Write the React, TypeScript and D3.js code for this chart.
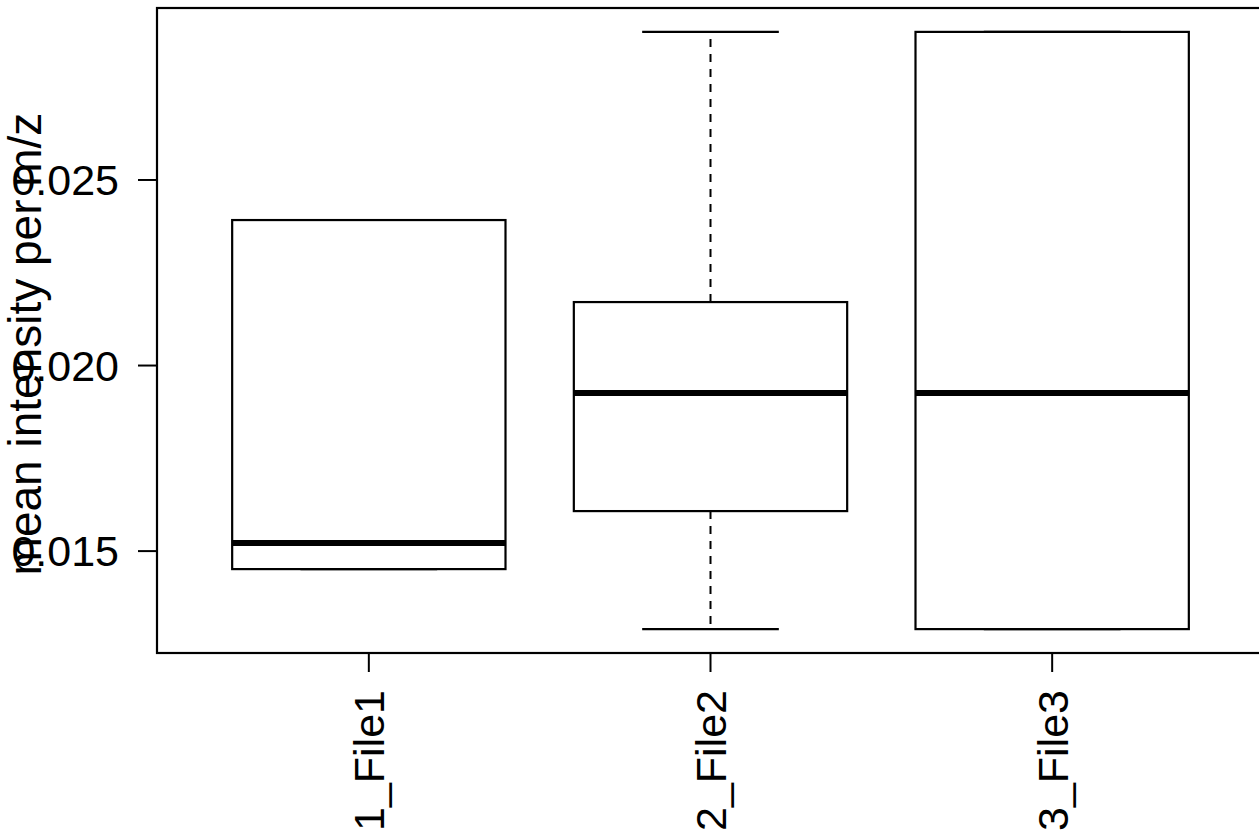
import React from "react";
import * as d3 from "d3";

const categories = ["1_File1", "2_File2", "3_File3"];
const mins = [0.014515, 0.012898, 0.012898];
const q1s = [0.014515, 0.016078, 0.012898];
const medians = [0.015216, 0.019259, 0.019259];
const q3s = [0.02392, 0.02171, 0.02899];
const maxs = [0.02392, 0.02899, 0.02899];
const yTicks = [0.015, 0.02, 0.025];
const yTitle = "mean intensity per m/z";

const W = 1259;
const H = 833;
const left = 157;
const right = 1264;
const top = 8;
const bottom = 653;
const fs = 43;

export default function App() {
  const lo = d3.min(mins)!;
  const hi = d3.max(maxs)!;
  const pad = (hi - lo) * 0.04;
  const y = d3.scaleLinear().domain([lo - pad, hi + pad]).range([bottom, top]);
  const n = categories.length;
  const x = d3.scaleLinear().domain([0.5 - 0.04 * n, n + 0.5 + 0.04 * n]).range([left, right]);
  const half = x(0.4) - x(0);
  const staple = x(0.2) - x(0);
  const font = "'Liberation Sans', Arial, sans-serif";
  return (
    <svg width={W} height={H} style={{ position: "absolute", left: 0, top: 0, background: "#fff" }}>
      <rect x={0} y={0} width={W} height={H} fill="#fff" />
      {categories.map((c, i) => {
        const cx = x(i + 1);
        return (
          <g key={c} stroke="#000" fill="none">
            <line x1={cx} x2={cx} y1={y(q3s[i])} y2={y(maxs[i])} strokeWidth={2} strokeDasharray="8 7" />
            <line x1={cx} x2={cx} y1={y(q1s[i])} y2={y(mins[i])} strokeWidth={2} strokeDasharray="8 7" />
            <line x1={cx - staple} x2={cx + staple} y1={y(maxs[i])} y2={y(maxs[i])} strokeWidth={2.2} />
            <line x1={cx - staple} x2={cx + staple} y1={y(mins[i])} y2={y(mins[i])} strokeWidth={2.2} />
            <rect x={cx - half} y={y(q3s[i])} width={2 * half} height={y(q1s[i]) - y(q3s[i])} fill="#fff" strokeWidth={2.2} />
            <line x1={cx - half} x2={cx + half} y1={y(medians[i])} y2={y(medians[i])} strokeWidth={6} />
          </g>
        );
      })}
      <rect x={left} y={top} width={right - left} height={bottom - top} fill="none" stroke="#000" strokeWidth={2.2} />
      {yTicks.map((t) => (
        <g key={t}>
          <line x1={left - 19} x2={left} y1={y(t)} y2={y(t)} stroke="#000" strokeWidth={2} />
          <text x={119} y={y(t) + 0.358 * fs} fontSize={fs} fontFamily={font} textAnchor="end" fill="#000">
            {d3.format(".3f")(t)}
          </text>
        </g>
      ))}
      {categories.map((c, i) => {
        const cx = x(i + 1);
        return (
          <g key={c}>
            <line x1={cx} x2={cx} y1={bottom} y2={bottom + 19} stroke="#000" strokeWidth={2} />
            <text
              transform={`translate(${cx + 0.358 * fs},${690}) rotate(-90)`}
              fontSize={fs}
              fontFamily={font}
              textAnchor="end"
              fill="#000"
            >
              {c}
            </text>
          </g>
        );
      })}
      <text
        transform={`translate(${41},${344}) rotate(-90)`}
        fontSize={46}
        fontFamily={font}
        textAnchor="middle"
        fill="#000"
      >
        {yTitle}
      </text>
    </svg>
  );
}
